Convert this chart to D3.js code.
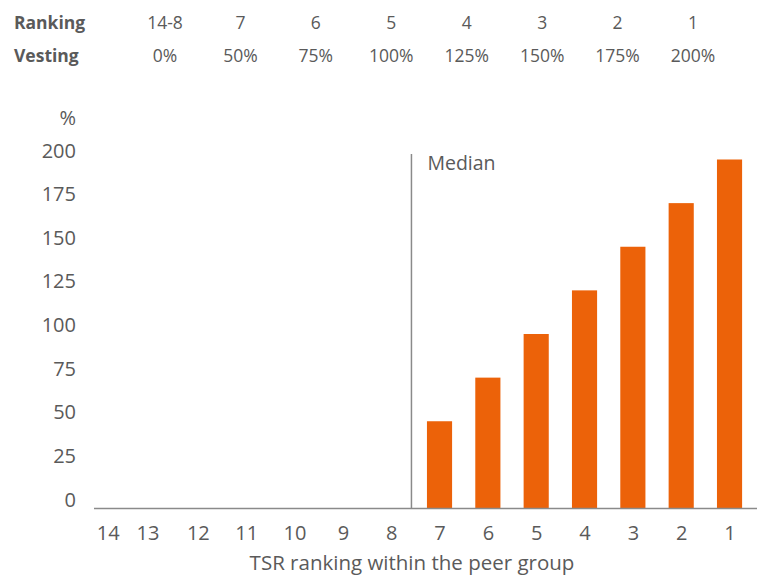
<!DOCTYPE html>
<html>
<head>
<meta charset="utf-8">
<script src="https://cdn.jsdelivr.net/npm/d3@7"></script>
<style>
  html, body { margin: 0; padding: 0; background: #fff; }
  svg text { font-family: "Open Sans", "Noto Sans", sans-serif; fill: #5a5a5a; }
</style>
</head>
<body>
<svg id="chart" width="757" height="575"></svg>
<script>
// ---- data ----
const categories = ["14","13","12","11","10","9","8","7","6","5","4","3","2","1"];
const vestingValues = [0, 0, 0, 0, 0, 0, 0, 50, 75, 100, 125, 150, 175, 200];
const yTicks = [0, 25, 50, 75, 100, 125, 150, 175, 200];
const tableRanking = ["14-8","7","6","5","4","3","2","1"];
const tableVesting = ["0%","50%","75%","100%","125%","150%","175%","200%"];
const medianAfter = "7";

const svg = d3.select("#chart");
const orange = "#EC6209";
const axisGrey = "#8a8a8a";
const FONT = "'Open Sans', 'Noto Sans', sans-serif";

const x = d3.scaleBand().domain(categories).range([77, 753.7]).paddingInner(0.48).paddingOuter(0.24);
const y = d3.scaleLinear().domain([0, 200]).range([508.5, 159.5]);

// top table
const tx = d3.scalePoint().domain(tableRanking).range([165, 693]);
svg.append("text").attr("x", 14).attr("y", 28.5).attr("font-size", 17.5).attr("font-weight", 700).text("Ranking");
svg.append("text").attr("x", 14).attr("y", 61.5).attr("font-size", 17.5).attr("font-weight", 700).text("Vesting");
svg.selectAll("text.tr").data(tableRanking).join("text").attr("class","tr")
  .attr("x", d => tx(d)).attr("y", 28.5).attr("font-size", 17.5).attr("text-anchor","middle").text(d => d);
svg.selectAll("text.tv").data(tableVesting).join("text").attr("class","tv")
  .attr("x", (d,i) => tx(tableRanking[i])).attr("y", 61.5).attr("font-size", 17.5).attr("text-anchor","middle").text(d => d);

// y tick labels (no axis line)
svg.selectAll("text.yt").data(yTicks).join("text").attr("class","yt")
  .attr("x", 76).attr("y", d => y(d) - 2).attr("font-size", 20).attr("text-anchor","end").text(d => d);
svg.append("text").attr("x", 76).attr("y", 125).attr("font-size", 20).attr("text-anchor","end").text("%");

// bars
svg.selectAll("rect.bar").data(categories.map((c,i) => ({c, v: vestingValues[i]})).filter(d => d.v > 0))
  .join("rect").attr("class","bar")
  .attr("x", d => x(d.c)).attr("width", x.bandwidth())
  .attr("y", d => y(d.v)).attr("height", d => y(0) - y(d.v))
  .attr("fill", orange);

// x axis
const xAxis = d3.axisBottom(x).tickSize(0).tickPadding(0);
const gx = svg.append("g").attr("transform", `translate(0,${y(0)})`).call(xAxis);
gx.select(".domain").remove();
gx.selectAll("text").attr("font-size", 20).attr("dy", null).attr("y", 31.5)
  .style("font-family", FONT).style("fill", "#5a5a5a")
  .attr("dx", d => d === "14" ? 7 : (d === "13" ? -1.5 : 0.5));
svg.append("line").attr("x1", 94).attr("x2", 757).attr("y1", y(0)).attr("y2", y(0))
  .attr("stroke", axisGrey).attr("stroke-width", 1.5);

// median line
const mx = x(medianAfter) - 15.5;
svg.append("line").attr("x1", mx).attr("x2", mx).attr("y1", 154).attr("y2", y(0))
  .attr("stroke", axisGrey).attr("stroke-width", 1.5);
svg.append("text").attr("x", mx + 16).attr("y", 170).attr("font-size", 19.5).text("Median");

// x title
svg.append("text").attr("x", 412).attr("y", 569.5).attr("font-size", 20.5).attr("text-anchor","middle")
  .text("TSR ranking within the peer group");
</script>
</body>
</html>
